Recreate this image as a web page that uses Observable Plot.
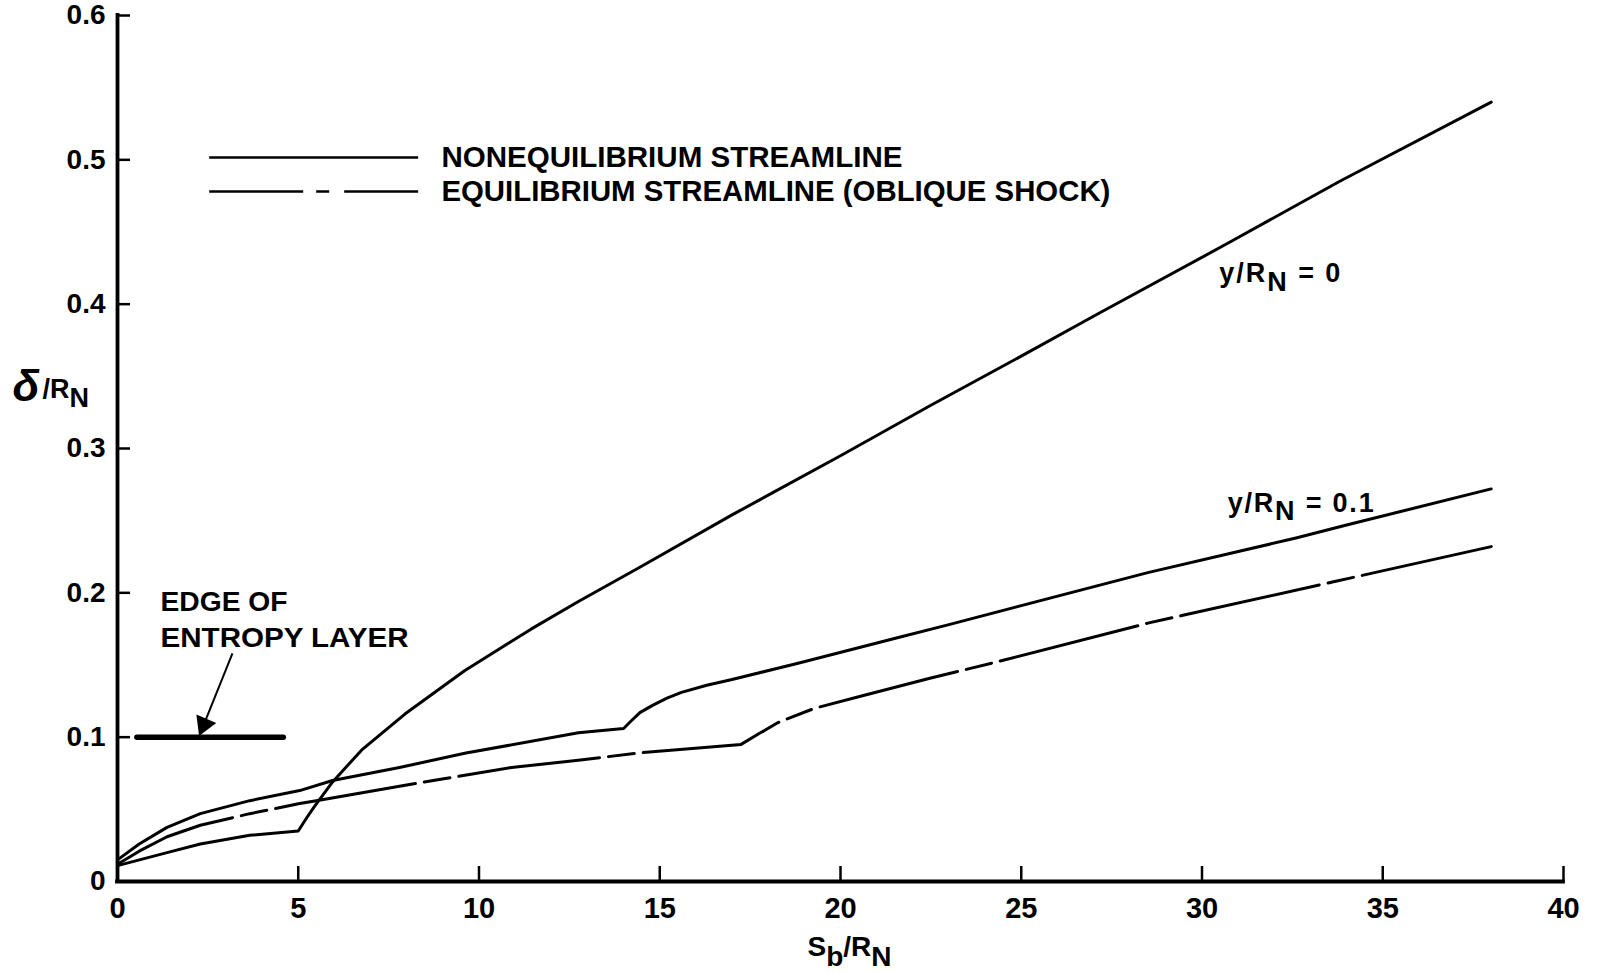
<!DOCTYPE html>
<html>
<head>
<meta charset="utf-8">
<script src="https://cdn.jsdelivr.net/npm/d3@7"></script>
<script src="https://cdn.jsdelivr.net/npm/@observablehq/plot@0.6"></script>
<style>
  html, body { margin: 0; padding: 0; background: #fff; }
  #chart svg { display: block; }
</style>
</head>
<body>
<div id="chart"></div>
<script>
// Axis ticks
const xTicks = [0, 5, 10, 15, 20, 25, 30, 35, 40];
const yTicks = [0, 0.1, 0.2, 0.3, 0.4, 0.5, 0.6];

// y/R_N = 0, nonequilibrium streamline
const sNoneq0 = [0, 1.37, 2.29, 3.66, 5.0, 5.23, 5.45, 5.95, 6.75, 7.95, 9.6, 11.45, 12.75, 14.4, 17.0, 20.0, 22.5, 25.0, 27.1, 30.7, 33.8, 38.0];
const dNoneq0 = [0.011, 0.020, 0.026, 0.032, 0.035, 0.044, 0.052, 0.069, 0.091, 0.116, 0.146, 0.175, 0.194, 0.217, 0.254, 0.295, 0.330, 0.364, 0.393, 0.442, 0.485, 0.540];

// y/R_N = 0.1, nonequilibrium streamline
const sNoneq01 = [0, 0.6, 1.37, 2.29, 3.66, 5.04, 5.95, 7.8, 9.64, 12.75, 14.0, 14.2, 14.45, 14.8, 15.2, 15.6, 16.3, 17.0, 18.8, 21.6, 23.0, 28.5, 32.6, 34.0, 38.0];
const dNoneq01 = [0.015, 0.026, 0.0375, 0.047, 0.056, 0.063, 0.070, 0.079, 0.089, 0.103, 0.106, 0.111, 0.117, 0.122, 0.127, 0.131, 0.136, 0.140, 0.151, 0.169, 0.178, 0.214, 0.238, 0.247, 0.272];

// y/R_N = 0.1, equilibrium streamline (oblique shock)
const sEq01 = [0, 0.6, 1.37, 2.29, 3.66, 5.04, 5.5, 7.8, 10.9, 12.75, 14.4, 17.25, 17.75, 18.26, 19.28, 20.66, 22.5, 24.3, 28.5, 33.7, 38.0];
const dEq01 = [0.012, 0.021, 0.031, 0.039, 0.047, 0.054, 0.056, 0.066, 0.079, 0.084, 0.089, 0.095, 0.1025, 0.110, 0.120, 0.129, 0.141, 0.152, 0.179, 0.208, 0.232];

// Edge of entropy layer
const entropyEdge = 0.1;

const legendLabels = ["NONEQUILIBRIUM STREAMLINE", "EQUILIBRIUM STREAMLINE (OBLIQUE SHOCK)"];
const curveLabels = ["y/R_N = 0", "y/R_N = 0.1"];
const edgeLabel = "EDGE OF\nENTROPY LAYER";
const xLabel = "S_b/R_N";
const yLabelSymbol = "δ";
const yLabelRest = "/R_N";

const rows = (s, d) => s.map((v, i) => ({s: v, d: d[i]}));
const ink = "#000";
const font = "'Liberation Sans', Arial, Helvetica, sans-serif";

const chart = Plot.plot({
  width: 1597,
  height: 972,
  marginLeft: 117,
  marginRight: 34,
  marginTop: 15,
  marginBottom: 91,
  x: {domain: [0, 40]},
  y: {domain: [0, 0.6]},
  style: {fontFamily: font, color: ink, background: "#fff", overflow: "visible"},
  marks: [
    // streamlines
    Plot.line(rows(sNoneq0, dNoneq0), {x: "s", y: "d", stroke: ink, strokeWidth: 3, strokeLinejoin: "round"}),
    Plot.line(rows(sNoneq01, dNoneq01), {x: "s", y: "d", stroke: ink, strokeWidth: 3, strokeLinejoin: "round"}),
    Plot.line(rows(sEq01, dEq01), {x: "s", y: "d", stroke: ink, strokeWidth: 3, strokeLinejoin: "round",
      strokeDasharray: "142,9,26,9", strokeDashoffset: 17}),

    // entropy layer edge and its pointer
    Plot.ruleY([entropyEdge], {x1: 0.55, x2: 4.6, stroke: ink, strokeWidth: 5.5, strokeLinecap: "round"}),
    Plot.link([edgeLabel], {x1: 3.18, y1: 0.158, x2: 2.39, y2: 0.1088, stroke: ink, strokeWidth: 2}),
    Plot.dot([edgeLabel], {x: 2.39, y: 0.1088, symbol: "triangle", r: 8, fill: ink, stroke: null, rotate: 203}),
    Plot.text([edgeLabel], {x: 1.19, y: 0.2051, text: d => d, textAnchor: "start", lineAnchor: "top",
      lineHeight: 1.33, fontSize: 27, fontWeight: "bold", fill: ink}),

    // legend
    Plot.ruleY([legendLabels[0]], {y: 0.5017, x1: 2.55, x2: 8.33, stroke: ink, strokeWidth: 2.5}),
    Plot.ruleY([legendLabels[1]], {y: 0.478, x1: 2.55, x2: 8.33, stroke: ink, strokeWidth: 2.5,
      strokeDasharray: "94,13,13,15,200"}),
    Plot.text([legendLabels[0]], {x: 8.96, y: 0.5017, text: d => d, textAnchor: "start", lineAnchor: "middle",
      fontSize: 29, fontWeight: "bold", fill: ink}),
    Plot.text([legendLabels[1]], {x: 8.96, y: 0.478, text: d => d, textAnchor: "start", lineAnchor: "middle",
      fontSize: 29, fontWeight: "bold", fill: ink}),

    // curve labels
    Plot.text([curveLabels[0]], {x: 30.48, y: 0.421, text: d => d, textAnchor: "start", lineAnchor: "middle",
      fontSize: 27, fontWeight: "bold", fill: ink}),
    Plot.text([curveLabels[1]], {x: 30.71, y: 0.2623, text: d => d, textAnchor: "start", lineAnchor: "middle",
      fontSize: 27, fontWeight: "bold", fill: ink}),

    // axes
    Plot.axisY({ticks: yTicks, tickSize: -13, tickPadding: 25, strokeWidth: 2.5,
      tickFormat: d => d === 0 ? "0" : d.toFixed(1), fontSize: 28, fontWeight: "bold", label: null}),
    Plot.axisX({ticks: xTicks, tickSize: -15, tickPadding: 31, strokeWidth: 2.5,
      tickFormat: d => String(d), fontSize: 29, fontWeight: "bold", label: null}),
    Plot.ruleX([0], {y1: 0, y2: 0.6, stroke: ink, strokeWidth: 3.8, strokeLinecap: "square"}),
    Plot.ruleY([0], {x1: 0, x2: 40, stroke: ink, strokeWidth: 3.8, strokeLinecap: "square"}),

    // axis titles
    Plot.text([yLabelSymbol], {frameAnchor: "top-left", dx: -105, dy: 371, text: d => d, textAnchor: "start",
      lineAnchor: "middle", fontSize: 44, fontWeight: "bold", fontStyle: "italic", fill: ink}),
    Plot.text([yLabelRest], {frameAnchor: "top-left", dx: -75, dy: 374, text: d => d, textAnchor: "start",
      lineAnchor: "middle", fontSize: 27, fontWeight: "bold", fill: ink}),
    Plot.text([xLabel], {frameAnchor: "bottom", dx: 9, dy: 55, text: d => d, textAnchor: "middle",
      lineAnchor: "top", fontSize: 28, fontWeight: "bold", fill: ink})
  ]
});

// Turn "_X" into a lowered subscript X
const NS = "http://www.w3.org/2000/svg";
function subscripts(svg) {
  const leaves = [...svg.querySelectorAll("text, tspan")].filter(el => !el.children.length && el.textContent.includes("_"));
  for (const el of leaves) {
    const fs = parseFloat(getComputedStyle(el).fontSize) || 24;
    const parts = el.textContent.split(/_(.)/);
    el.textContent = "";
    let lowered = false;
    parts.forEach((p, i) => {
      if (!p) return;
      const t = document.createElementNS(NS, "tspan");
      t.textContent = p;
      const isSub = i % 2 === 1;
      if (isSub && !lowered) { t.setAttribute("dy", (0.33 * fs).toFixed(1)); lowered = true; }
      else if (!isSub && lowered) { t.setAttribute("dy", (-0.33 * fs).toFixed(1)); lowered = false; }
      el.appendChild(t);
    });
  }
}

// Stretch a label to a given width
function fit(svg, str, width, adjust = "spacingAndGlyphs") {
  for (const el of svg.querySelectorAll("text, tspan")) {
    if (!el.children.length && el.textContent === str) {
      el.setAttribute("textLength", width);
      el.setAttribute("lengthAdjust", adjust);
    }
  }
}

document.getElementById("chart").appendChild(chart);
fit(chart, legendLabels[0], 461);
fit(chart, legendLabels[1], 669);
fit(chart, "EDGE OF", 127);
fit(chart, "ENTROPY LAYER", 248);
fit(chart, curveLabels[0], 121, "spacing");
fit(chart, curveLabels[1], 146, "spacing");
subscripts(chart);
</script>
</body>
</html>
